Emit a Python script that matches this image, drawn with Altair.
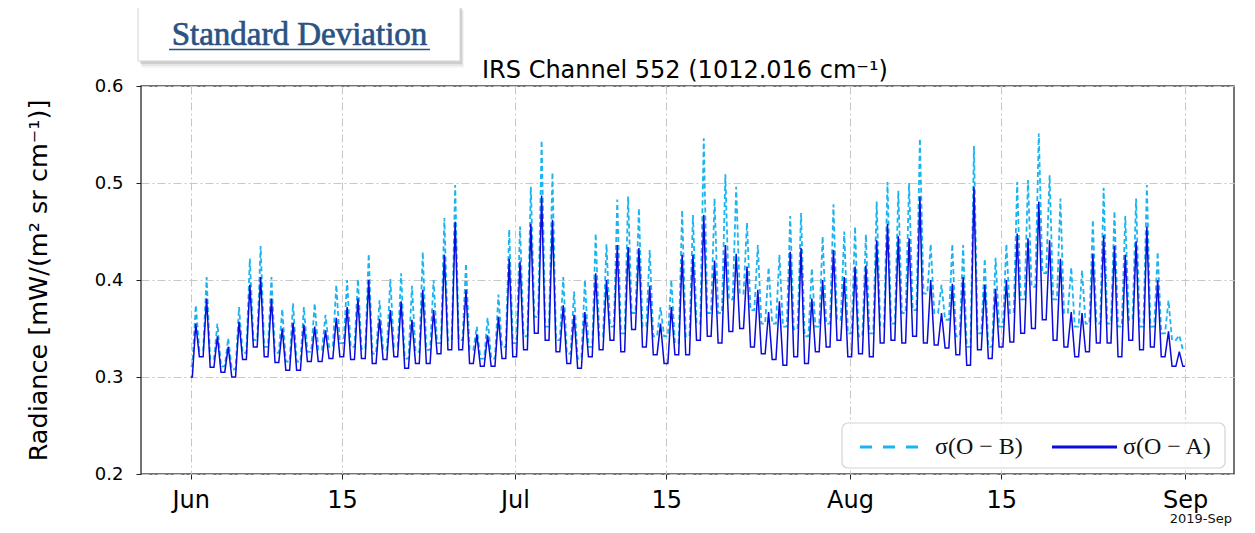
import altair as alt
import pandas as pd

# ---------------- data ----------------
# daily peak values, day 0 = 2019-06-01 ... day 91 = 2019-08-31
ob_peak = [0.374, 0.403, 0.355, 0.340, 0.372, 0.422, 0.435, 0.403, 0.370, 0.376,
           0.372, 0.376, 0.364, 0.395, 0.400, 0.401, 0.427, 0.379, 0.401, 0.407,
           0.394, 0.429, 0.400, 0.464, 0.498, 0.417, 0.352, 0.361, 0.385, 0.452,
           0.455, 0.496, 0.544, 0.511, 0.403, 0.388, 0.400, 0.448, 0.437, 0.483,
           0.486, 0.474, 0.431, 0.372, 0.400, 0.472, 0.467, 0.546, 0.484, 0.509,
           0.496, 0.459, 0.436, 0.413, 0.426, 0.466, 0.469, 0.412, 0.445, 0.478,
           0.450, 0.455, 0.447, 0.481, 0.501, 0.492, 0.500, 0.546, 0.437, 0.395,
           0.437, 0.436, 0.538, 0.422, 0.423, 0.437, 0.501, 0.503, 0.551, 0.508,
           0.484, 0.413, 0.410, 0.462, 0.495, 0.471, 0.466, 0.484, 0.498, 0.429,
           0.379, 0.343]
oa_peak = [0.355, 0.381, 0.342, 0.331, 0.357, 0.395, 0.403, 0.381, 0.350, 0.356,
           0.354, 0.352, 0.348, 0.361, 0.372, 0.381, 0.400, 0.360, 0.369, 0.378,
           0.359, 0.390, 0.369, 0.426, 0.460, 0.390, 0.344, 0.343, 0.362, 0.422,
           0.419, 0.458, 0.487, 0.462, 0.374, 0.364, 0.367, 0.407, 0.400, 0.436,
           0.434, 0.433, 0.394, 0.355, 0.372, 0.426, 0.426, 0.467, 0.420, 0.436,
           0.427, 0.414, 0.390, 0.367, 0.378, 0.429, 0.433, 0.381, 0.400, 0.431,
           0.403, 0.414, 0.415, 0.441, 0.458, 0.445, 0.443, 0.486, 0.400, 0.366,
           0.396, 0.403, 0.496, 0.395, 0.391, 0.400, 0.448, 0.443, 0.481, 0.441,
           0.422, 0.367, 0.366, 0.427, 0.446, 0.435, 0.426, 0.440, 0.455, 0.400,
           0.347, 0.326]
# daily trough values (before each day's peak), plus the final value on Sep 1
ob_base = [0.311, 0.327, 0.318, 0.311, 0.308, 0.325, 0.338, 0.331, 0.325, 0.316,
           0.316, 0.326, 0.328, 0.331, 0.335, 0.331, 0.329, 0.324, 0.328, 0.331,
           0.319, 0.326, 0.328, 0.335, 0.338, 0.338, 0.328, 0.319, 0.319, 0.331,
           0.335, 0.342, 0.362, 0.352, 0.338, 0.324, 0.319, 0.331, 0.342, 0.352,
           0.345, 0.366, 0.352, 0.342, 0.342, 0.335, 0.342, 0.355, 0.366, 0.366,
           0.380, 0.386, 0.369, 0.355, 0.355, 0.352, 0.349, 0.342, 0.352, 0.355,
           0.359, 0.345, 0.342, 0.345, 0.352, 0.355, 0.366, 0.369, 0.386, 0.366,
           0.359, 0.342, 0.331, 0.345, 0.331, 0.352, 0.366, 0.380, 0.393, 0.407,
           0.380, 0.366, 0.352, 0.355, 0.355, 0.355, 0.352, 0.359, 0.352, 0.352,
           0.345, 0.338]
oa_base = [0.300, 0.321, 0.310, 0.305, 0.300, 0.318, 0.331, 0.321, 0.315, 0.307,
           0.307, 0.316, 0.316, 0.319, 0.321, 0.318, 0.319, 0.314, 0.318, 0.321,
           0.309, 0.314, 0.314, 0.324, 0.328, 0.328, 0.314, 0.311, 0.311, 0.319,
           0.321, 0.328, 0.345, 0.338, 0.326, 0.314, 0.309, 0.321, 0.328, 0.338,
           0.326, 0.349, 0.331, 0.323, 0.314, 0.323, 0.323, 0.338, 0.342, 0.335,
           0.347, 0.350, 0.331, 0.324, 0.318, 0.312, 0.321, 0.314, 0.326, 0.331,
           0.338, 0.321, 0.324, 0.321, 0.335, 0.338, 0.335, 0.342, 0.335, 0.333,
           0.330, 0.323, 0.312, 0.328, 0.319, 0.331, 0.336, 0.345, 0.350, 0.359,
           0.338, 0.331, 0.321, 0.326, 0.335, 0.335, 0.321, 0.338, 0.328, 0.331,
           0.321, 0.311]
ob_end = 0.328
oa_end = 0.311

series_names = ["σ(O − B)", "σ(O − A)"]
colors = ["#1cb4f0", "#0b0bdc"]
tick_dates = [(6, 1), (6, 15), (7, 1), (7, 15), (8, 1), (8, 15), (9, 1)]
title_text = "IRS Channel 552 (1012.016 cm⁻¹)"
y_title = "Radiance [mW/(m² sr cm⁻¹)]"

# ---------------- build the table ----------------
start = pd.Timestamp("2019-06-01T00:00:00")


def stamp(day):
    return (start + pd.Timedelta(days=day)).strftime("%Y-%m-%dT%H:%M:%SZ")


rows = []
for name, peak, base, end in [(series_names[0], ob_peak, ob_base, ob_end),
                              (series_names[1], oa_peak, oa_base, oa_end)]:
    rows.append({"t": stamp(0.0), "v": base[0], "s": name})
    n = len(peak)
    for d in range(n):
        nxt = base[d + 1] if d + 1 < n else end
        rows.append({"t": stamp(d + 0.15), "v": base[d], "s": name})
        rows.append({"t": stamp(d + 0.47), "v": peak[d], "s": name})
        rows.append({"t": stamp(d + 0.80), "v": nxt, "s": name})
    rows.append({"t": stamp(float(n)), "v": end, "s": name})
df = pd.DataFrame(rows)

W, H = 1093, 388

x_enc = alt.X(
    "t:T",
    scale=alt.Scale(type="utc", domain=[
        alt.DateTime(year=2019, month=5, date=27, hours=9, minutes=36, utc=True),
        alt.DateTime(year=2019, month=9, date=5, hours=12, minutes=45, utc=True)]),
    axis=alt.Axis(
        values=[alt.DateTime(year=2019, month=m, date=d, utc=True) for m, d in tick_dates],
        labelExpr="utcFormat(datum.value, '%d') == '01' ? utcFormat(datum.value, '%b') : utcFormat(datum.value, '%-d')",
        title=None, labelFontSize=24, tickSize=5, labelPadding=9,
        labelFlush=False, labelOverlap=False),
)
y_enc = alt.Y(
    "v:Q",
    scale=alt.Scale(domain=[0.2, 0.6], nice=False, zero=False),
    axis=alt.Axis(values=[0.2, 0.3, 0.4, 0.5, 0.6], format=".1f",
                  title=y_title, titleFontSize=25.5,
                  titlePadding=43, labelFontSize=18, tickSize=5, labelPadding=13,
                  labelOverlap=False),
)

base_chart = alt.Chart(df)
line_ob = base_chart.transform_filter(alt.datum.s == series_names[0]).mark_line(
    color=colors[0], strokeWidth=1.8, strokeDash=[5, 3]).encode(x=x_enc, y=y_enc)
line_oa = base_chart.transform_filter(alt.datum.s == series_names[1]).mark_line(
    color=colors[1], strokeWidth=1.5).encode(x=x_enc, y=y_enc)

one = pd.DataFrame({"k": [0]})

# chart title as a text mark (a Vega title would be pushed above the box)
title_mark = alt.Chart(one).mark_text(
    text=title_text, font="DejaVu Sans", fontSize=24, color="black",
    align="center", baseline="alphabetic").encode(x=alt.value(544), y=alt.value(-8.5))

# "Standard Deviation" box with a soft shadow
shadows = []
for dx, dy, op in [(4, 7, 0.06), (3, 5, 0.10), (2, 3, 0.16)]:
    shadows.append(alt.Chart(one).mark_rect(color="#555555", opacity=op).encode(
        x=alt.value(-3 + dx), x2=alt.value(319 + dx),
        y=alt.value(-82 + dy), y2=alt.value(-25 + dy)))
box = alt.Chart(one).mark_rect(fill="white", stroke="#d4d4d4", strokeWidth=1).encode(
    x=alt.value(-3), x2=alt.value(319), y=alt.value(-82), y2=alt.value(-25))
box_text = alt.Chart(one).mark_text(
    text="Standard Deviation", font="Liberation Serif", fontSize=33,
    color="#2a5283", stroke="#2a5283", strokeWidth=0.7,
    align="center", baseline="alphabetic").encode(
    x=alt.value(158.5), y=alt.value(-41))
underline = alt.Chart(one).mark_rule(color="#2a5283", strokeWidth=1.3).encode(
    x=alt.value(28), x2=alt.value(289), y=alt.value(-36.5))

# legend
leg_box = alt.Chart(one).mark_rect(fill="white", opacity=0.9, stroke="#d0d0d0",
                                   strokeWidth=1.2, cornerRadius=6).encode(
    x=alt.value(701), x2=alt.value(1084), y=alt.value(337), y2=alt.value(382))
leg_ob = alt.Chart(one).mark_rule(color=colors[0], strokeWidth=3, strokeDash=[12, 11]).encode(
    x=alt.value(719), x2=alt.value(779), y=alt.value(361))
leg_oa = alt.Chart(one).mark_rule(color=colors[1], strokeWidth=3).encode(
    x=alt.value(911), x2=alt.value(976), y=alt.value(361))
leg_t1 = alt.Chart(one).mark_text(text=series_names[0], font="Liberation Serif", fontSize=24,
                                  color="#111111", align="left", baseline="middle").encode(
    x=alt.value(794), y=alt.value(361))
leg_t2 = alt.Chart(one).mark_text(text=series_names[1], font="Liberation Serif", fontSize=24,
                                  color="#111111", align="left", baseline="middle").encode(
    x=alt.value(982), y=alt.value(361))

year_note = alt.Chart(one).mark_text(text="2019-Sep", font="DejaVu Sans", fontSize=13,
                                     color="#111111", align="right", baseline="alphabetic").encode(
    x=alt.value(1091), y=alt.value(437))

chart = alt.layer(
    *shadows, box, box_text, underline, title_mark,
    line_ob, line_oa,
    leg_box, leg_ob, leg_oa, leg_t1, leg_t2,
    year_note,
).properties(
    width=W, height=H,
    autosize=alt.AutoSizeParams(type="none"),
    padding={"left": 133, "top": 78, "right": 12, "bottom": 52},
).configure_view(
    stroke="#444444", strokeWidth=1.5
).configure_axis(
    grid=True, gridColor="#c8c8c8", gridDash=[8, 3, 2, 3], gridWidth=1,
    tickColor="#222222", labelColor="black", domain=False,
    labelFont="DejaVu Sans", titleFont="DejaVu Sans", titleFontWeight="normal",
    titleColor="black",
)

chart.save("out.html", embed_options={"renderer": "svg", "actions": False})
